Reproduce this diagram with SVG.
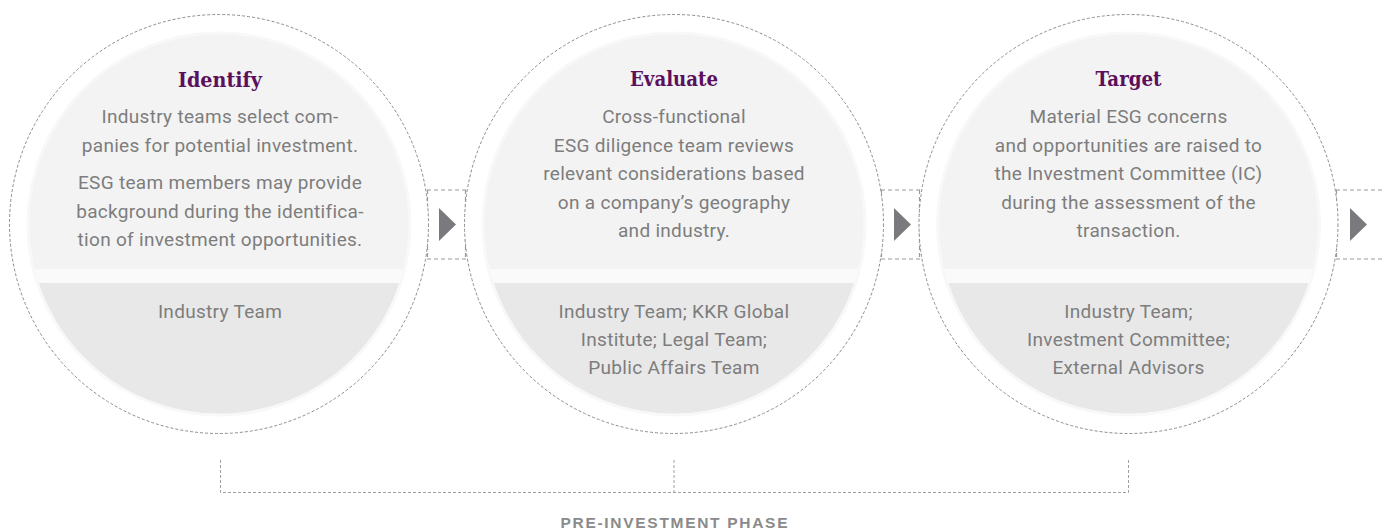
<svg xmlns="http://www.w3.org/2000/svg" width="1383" height="529" viewBox="0 0 1383 529">
<style>
.outer{fill:#fff;stroke:#8c8c8c;stroke-width:1;stroke-dasharray:3 2}
.top{fill:#f3f3f3}
.gap{fill:#fafafa}
.bot{fill:#e8e8e8}
.halo{fill:none;stroke:#f8f8f8;stroke-width:3}
.title{font-family:"DejaVu Serif",serif;font-weight:bold;font-size:21px;fill:#5b0f5c;text-anchor:middle}
.body{font-family:Roboto,"Liberation Sans",sans-serif;font-size:19px;letter-spacing:0.3px;fill:#7d7d7d;text-anchor:middle}
.conn{fill:none;stroke:#9a9a9a;stroke-width:1.2;stroke-dasharray:4 3}
.arrow{fill:#7a7a7e}
.brk{fill:none;stroke:#a0a0a0;stroke-width:1;stroke-dasharray:3 2}
.phase{font-family:"Liberation Sans",Arial,sans-serif;font-weight:bold;font-size:15.5px;fill:#8a8a8a;text-anchor:middle}
</style>
<defs>
<clipPath id="inner"><circle cx="0" cy="0" r="190"/></clipPath>
</defs>

<g id="connectors">
<path class="conn" d="M427 190 H466 M427 259 H466 M427.5 190 V259 M465.5 190 V259"/>
<polygon class="arrow" points="439,208 439,241 456,224.5"/>
<path class="conn" d="M881 190 H920 M881 259 H920 M881.5 190 V259 M919.5 190 V259"/>
<polygon class="arrow" points="894,208 894,241 911,224.5"/>
<path class="conn" d="M1336 190 H1383 M1336 259 H1383 M1336.5 190 V259"/>
<polygon class="arrow" points="1350,208 1350,241 1367,224.5"/>
<path class="brk" d="M220.5 460 V492.5 H1128.5 V460 M674 460 V492.5"/>
</g>

<g id="identify" transform="translate(219,224)">
<circle class="outer" r="209.5"/>
<g clip-path="url(#inner)">
<rect class="top" x="-200" y="-200" width="400" height="245"/>
<rect class="gap" x="-200" y="45" width="400" height="14"/>
<rect class="bot" x="-200" y="59" width="400" height="141"/>
</g>
<circle class="halo" r="191"/>
<text class="title" x="1" y="-137" textLength="84" lengthAdjust="spacingAndGlyphs">Identify</text>
<text class="body" x="1" y="-101">Industry teams select com-</text>
<text class="body" x="1" y="-72">panies for potential investment.</text>
<text class="body" x="1" y="-35">ESG team members may provide</text>
<text class="body" x="1" y="-6.5">background during the identifica-</text>
<text class="body" x="1" y="22">tion of investment opportunities.</text>
<text class="body" x="1" y="94">Industry Team</text>
</g>

<g id="evaluate" transform="translate(674,224)">
<circle class="outer" r="209.5"/>
<g clip-path="url(#inner)">
<rect class="top" x="-200" y="-200" width="400" height="245"/>
<rect class="gap" x="-200" y="45" width="400" height="14"/>
<rect class="bot" x="-200" y="59" width="400" height="141"/>
</g>
<circle class="halo" r="191"/>
<text class="title" x="0" y="-138" textLength="88" lengthAdjust="spacingAndGlyphs">Evaluate</text>
<text class="body" x="0" y="-101">Cross-functional</text>
<text class="body" x="0" y="-72">ESG diligence team reviews</text>
<text class="body" x="0" y="-44">relevant considerations based</text>
<text class="body" x="0" y="-15.5">on a company’s geography</text>
<text class="body" x="0" y="13">and industry.</text>
<text class="body" x="0" y="94">Industry Team; KKR Global</text>
<text class="body" x="0" y="122">Institute; Legal Team;</text>
<text class="body" x="0" y="150">Public Affairs Team</text>
</g>

<g id="target" transform="translate(1128.5,224)">
<circle class="outer" r="209.5"/>
<g clip-path="url(#inner)">
<rect class="top" x="-200" y="-200" width="400" height="245"/>
<rect class="gap" x="-200" y="45" width="400" height="14"/>
<rect class="bot" x="-200" y="59" width="400" height="141"/>
</g>
<circle class="halo" r="191"/>
<text class="title" x="0" y="-138" textLength="66" lengthAdjust="spacingAndGlyphs">Target</text>
<text class="body" x="0" y="-101">Material ESG concerns</text>
<text class="body" x="0" y="-72">and opportunities are raised to</text>
<text class="body" x="0" y="-44">the Investment Committee (IC)</text>
<text class="body" x="0" y="-15.5">during the assessment of the</text>
<text class="body" x="0" y="13">transaction.</text>
<text class="body" x="0" y="94">Industry Team;</text>
<text class="body" x="0" y="122">Investment Committee;</text>
<text class="body" x="0" y="150">External Advisors</text>
</g>

<g id="phase">
<text class="phase" x="674" y="528" textLength="227" lengthAdjust="spacing">PRE-INVESTMENT PHASE</text>
</g>
</svg>
